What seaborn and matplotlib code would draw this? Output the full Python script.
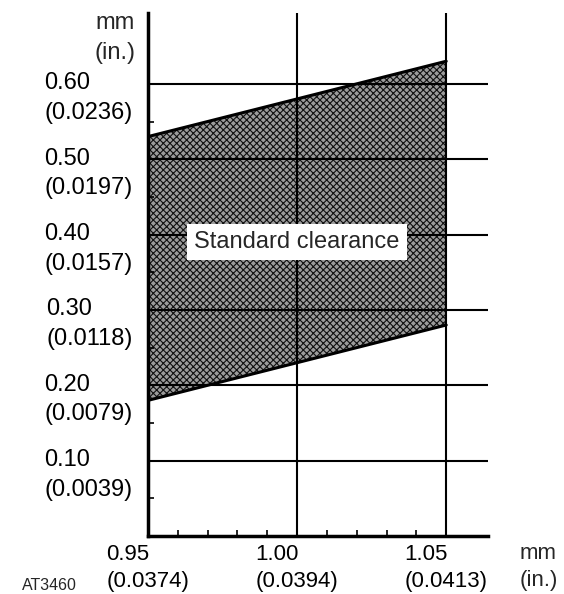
import numpy as np
import pandas as pd
import matplotlib
matplotlib.use("Agg")
import matplotlib.pyplot as plt
import matplotlib.transforms as mtransforms
from matplotlib.ticker import FixedLocator
import seaborn as sns

# ---- data ----
x_ticks = [0.95, 1.00, 1.05]
x_tick_labels = ["0.95\n(0.0374)", "1.00\n(0.0394)", "1.05\n(0.0413)"]
x_minor_ticks = [0.96, 0.97, 0.98, 0.99, 1.01, 1.02, 1.03, 1.04]
y_ticks = [0.10, 0.20, 0.30, 0.40, 0.50, 0.60]
y_tick_labels = ["0.10\n(0.0039)", "0.20\n(0.0079)", "0.30\n(0.0118)",
                 "0.40\n(0.0157)", "0.50\n(0.0197)", "0.60\n(0.0236)"]
y_minor_ticks = [0.05, 0.15, 0.25, 0.35, 0.45, 0.55]
band_x = [0.95, 1.05]
band_lower = [0.18, 0.28]
band_upper = [0.53, 0.63]
band_label = "Standard clearance"
band_label_pos = (1.00, 0.39)
unit_label = "mm\n(in.)"
figure_code = "AT3460"

sns.set_style("white")
plt.rcParams['font.family'] = ['Liberation Sans', 'DejaVu Sans']
plt.rcParams['hatch.linewidth'] = 0.8
FS = 17
FSX = 16

fig = plt.figure(figsize=(5.64, 5.94), dpi=100)
ax = fig.add_axes([0.2624, 0.0976, 0.6028, 0.8805])
ax.set_xlim(0.95, 1.064)
ax.set_ylim(0, 0.694)

# band
ax.fill_between(band_x, band_lower, band_upper, facecolor='#9c9c9c',
                edgecolor='#111111', linewidth=0, hatch='xxxxx', zorder=1)
df = pd.DataFrame({'x': band_x * 2, 'y': band_lower + band_upper,
                   'edge': ['lower'] * 2 + ['upper'] * 2})
sns.lineplot(data=df, x='x', y='y', units='edge', estimator=None,
             color='black', lw=2.2, ax=ax, zorder=3, legend=False)

# grid & spines
ax.set_axisbelow(False)
ax.grid(True, color='black', lw=1.5)
for s in ['top', 'right']:
    ax.spines[s].set_visible(False)
for s in ['left', 'bottom']:
    ax.spines[s].set_color('black')
    ax.spines[s].set_linewidth(2.5)

ax.set_xticks(x_ticks)
ax.set_xticklabels(x_tick_labels)
ax.set_yticks(y_ticks)
ax.set_yticklabels(y_tick_labels)
ax.xaxis.set_minor_locator(FixedLocator(x_minor_ticks))
ax.yaxis.set_minor_locator(FixedLocator(y_minor_ticks))
ax.tick_params(which='major', length=0, labelcolor='black',
               bottom=True, left=True)
ax.tick_params(axis='y', which='major', pad=11, labelsize=FS)
ax.tick_params(axis='x', which='major', pad=6, labelsize=FSX)
ax.tick_params(which='minor', direction='in', length=4, width=1.2,
               color='black', bottom=True, left=True)
shift_y = mtransforms.ScaledTranslation(0, -0.08, fig.dpi_scale_trans)
for lab in ax.get_yticklabels():
    lab.set_multialignment('left')
    lab.set_linespacing(1.45)
    lab.set_transform(lab.get_transform() + shift_y)
for lab in ax.get_xticklabels():
    lab.set_multialignment('left')
    lab.set_linespacing(1.35)
ax.set_xlabel('')
ax.set_ylabel('')

ax.text(band_label_pos[0], band_label_pos[1], band_label, ha='center',
        va='center', fontsize=FS, zorder=6,
        bbox=dict(boxstyle='square,pad=0.3', facecolor='white', edgecolor='none'))

fig.text(135 / 564, 1 - 12 / 594, unit_label, ha='right', va='top',
         multialignment='right', fontsize=FS, linespacing=1.5)
fig.text(520 / 564, 1 - 543 / 594, unit_label, ha='left', va='top',
         multialignment='left', fontsize=FSX, linespacing=1.35)
fig.text(22 / 564, 1 - 585 / 594, figure_code, ha='left', va='center',
         fontsize=11.5)

fig.savefig('out.png', dpi=100)
